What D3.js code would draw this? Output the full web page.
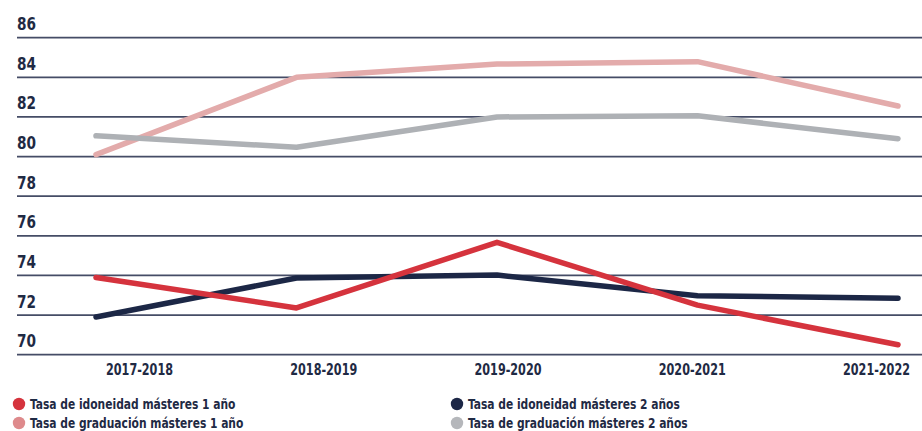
<!DOCTYPE html>
<html>
<head>
<meta charset="utf-8">
<script src="https://cdn.jsdelivr.net/npm/d3@7"></script>
<style>
  html, body { margin: 0; padding: 0; background: #ffffff; }
  svg { display: block; }
  text { font-family: "Liberation Sans Narrow", "DejaVu Sans Condensed", "Liberation Sans", sans-serif; font-weight: bold; fill: #1f2a44; }
</style>
</head>
<body>
<svg id="chart" width="922" height="431"></svg>
<script>
// Academic years
const years = ["2017-2018", "2018-2019", "2019-2020", "2020-2021", "2021-2022"];

// Rates (%) per academic year
const idoneidad1 = [73.9, 72.36, 75.67, 72.5, 70.5];
const idoneidad2 = [71.9, 73.87, 74.02, 72.98, 72.85];
const graduacion1 = [80.1, 84.0, 84.67, 84.79, 82.55];
const graduacion2 = [81.05, 80.47, 82.0, 82.06, 80.9];

const yTicks = [70, 72, 74, 76, 78, 80, 82, 84, 86];

const seriesNames = [
  "Tasa de idoneidad másteres 1 año",
  "Tasa de idoneidad másteres 2 años",
  "Tasa de graduación másteres 1 año",
  "Tasa de graduación másteres 2 años"
];

const series = [
  { name: seriesNames[2], values: graduacion1, color: "#e3abab" },
  { name: seriesNames[3], values: graduacion2, color: "#aeb1b5" },
  { name: seriesNames[1], values: idoneidad2, color: "#1c2746" },
  { name: seriesNames[0], values: idoneidad1, color: "#d5333d" }
];

const svg = d3.select("#chart");

const y = d3.scaleLinear().domain([70, 86]).range([354.7, 37.7]);
const x = d3.scalePoint().domain(years).range([96, 898]);
const xLabel = d3.scalePoint().domain(years).range([139, 876]);

// Narrow the bold face horizontally to a condensed look
function condense(sel, k) {
  sel.each(function () {
    const w = this.getComputedTextLength();
    d3.select(this).attr("textLength", w * k).attr("lengthAdjust", "spacingAndGlyphs");
  });
}

// Horizontal gridlines with their value labels above
const grid = svg.append("g");
grid.selectAll("line").data(yTicks).join("line")
  .attr("x1", 17).attr("x2", 922)
  .attr("y1", d => y(d)).attr("y2", d => y(d))
  .attr("stroke", "#454c66").attr("stroke-width", 1.8);
grid.selectAll("text").data(yTicks).join("text")
  .attr("x", 17).attr("y", d => y(d) - 7.5)
  .attr("font-size", 18.5)
  .text(d => d)
  .call(condense, 0.82);

// Category axis
const xAxis = svg.append("g")
  .attr("transform", "translate(0,362)")
  .call(d3.axisBottom(xLabel).tickSize(0).tickPadding(0));
xAxis.select(".domain").remove();
xAxis.selectAll("text")
  .attr("font-size", 15)
  .attr("dy", "0.85em")
  .style("font-family", "'Liberation Sans Narrow', 'DejaVu Sans Condensed', sans-serif")
  .style("font-weight", "bold")
  .attr("fill", "#1f2a44")
  .call(condense, 0.83);

// Series lines
const line = d3.line().x((d, i) => x(years[i])).y(d => y(d));
svg.append("g").selectAll("path").data(series).join("path")
  .attr("d", d => line(d.values))
  .attr("fill", "none")
  .attr("stroke", d => d.color)
  .attr("stroke-width", 5.5)
  .attr("stroke-linecap", "round")
  .attr("stroke-linejoin", "round");

// Legend
const legendItems = [
  { name: seriesNames[0], color: "#d5333d", col: 0, row: 0 },
  { name: seriesNames[2], color: "#de8a8c", col: 0, row: 1 },
  { name: seriesNames[1], color: "#1c2746", col: 1, row: 0 },
  { name: seriesNames[3], color: "#b5b7bb", col: 1, row: 1 }
];
const colX = [19, 457];
const legend = svg.append("g").selectAll("g").data(legendItems).join("g")
  .attr("transform", d => `translate(${colX[d.col]},${404 + d.row * 19})`);
legend.append("circle").attr("r", 6.2).attr("fill", d => d.color);
legend.append("text")
  .attr("x", 11).attr("y", 5.2)
  .attr("font-size", 14.5)
  .text(d => d.name)
  .call(condense, 0.82);
</script>
</body>
</html>
